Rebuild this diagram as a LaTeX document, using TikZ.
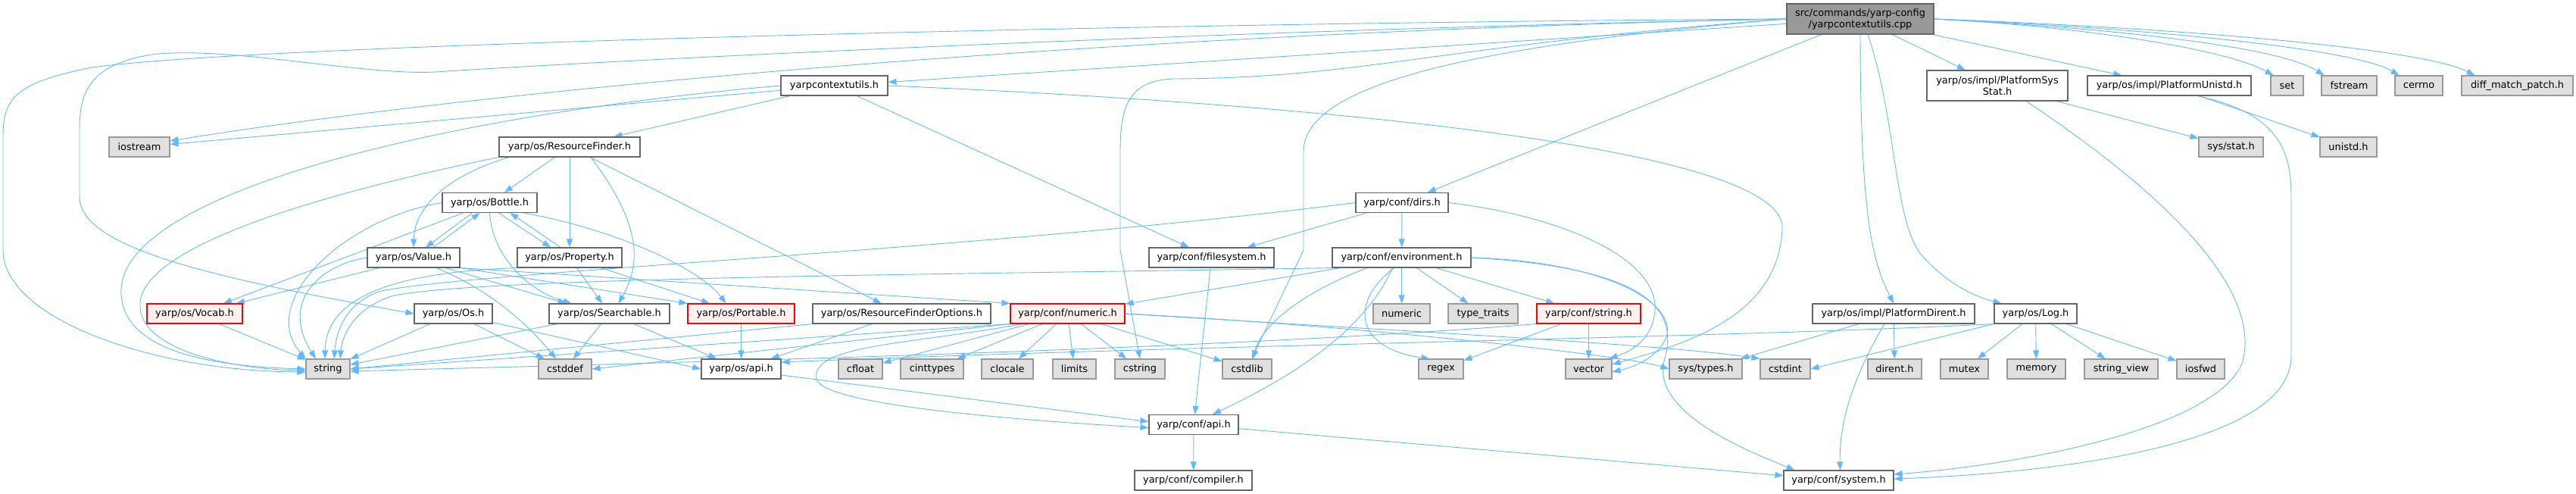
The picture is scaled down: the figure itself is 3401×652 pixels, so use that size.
\documentclass[tikz,border=0pt]{standalone}
\usepackage{fontspec}
\setmainfont{DejaVu Sans}
\usetikzlibrary{arrows.meta,backgrounds}
\definecolor{edgeblue}{HTML}{63B8FF}
\definecolor{boxline}{HTML}{666666}
\definecolor{sysline}{HTML}{999999}
\definecolor{sysfill}{HTML}{E0E0E0}
\definecolor{truncfill}{HTML}{FFF0F0}
\definecolor{rootfill}{HTML}{999999}

\begin{document}
\begin{tikzpicture}[x=1pt,y=-1pt,
  hdr/.style={draw=boxline,fill=white,line width=1.1pt,minimum height=26pt,inner sep=0pt,align=center,font=\fontsize{12.9}{15}\selectfont},
  sys/.style={hdr,draw=sysline,fill=sysfill},
  trunc/.style={hdr,draw=red,fill=truncfill},
  root/.style={hdr,fill=rootfill,minimum height=40pt},
  dep/.style={draw=edgeblue,line width=0.9pt,-{Triangle[length=11pt,width=8pt]}}]
\useasboundingbox (0,0) rectangle (3401,652);
\node[root,minimum width=194pt] (ctxcpp) at (2456,25) {src/commands/yarp-config\\/yarpcontextutils.cpp};
\node[hdr,minimum width=141pt] (ctxh) at (1101.5,113) {yarpcontextutils.h};
\node[hdr,minimum width=186pt,minimum height=40pt] (sysstat) at (2637,113) {yarp/os/impl/PlatformSys\\Stat.h};
\node[hdr,minimum width=216pt] (unistdh) at (2864,113) {yarp/os/impl/PlatformUnistd.h};
\node[sys,minimum width=43pt] (stdset) at (3019.5,113) {set};
\node[sys,minimum width=73pt] (fstream) at (3101.5,113) {fstream};
\node[sys,minimum width=63pt] (cerrno) at (3193.5,113) {cerrno};
\node[sys,minimum width=147pt] (dmp) at (3323.5,113) {diff\_match\_patch.h};
\node[sys,minimum width=80pt] (iostream) at (184,194) {iostream};
\node[hdr,minimum width=186pt] (rfinder) at (752,194) {yarp/os/ResourceFinder.h};
\node[sys,minimum width=85pt] (sysstath) at (2945.5,194) {sys/stat.h};
\node[sys,minimum width=75pt] (unistd) at (3100.5,194) {unistd.h};
\node[hdr,minimum width=125pt] (bottle) at (646.5,267.5) {yarp/os/Bottle.h};
\node[hdr,minimum width=122pt] (dirs) at (1851,267.5) {yarp/conf/dirs.h};
\node[hdr,minimum width=122pt] (value) at (546,340) {yarp/os/Value.h};
\node[hdr,minimum width=138pt] (property) at (752,340) {yarp/os/Property.h};
\node[hdr,minimum width=165pt] (fsys) at (1599.5,340) {yarp/conf/filesystem.h};
\node[hdr,minimum width=183pt] (env) at (1850.5,340) {yarp/conf/environment.h};
\node[trunc,minimum width=126pt] (vocab) at (257,414) {yarp/os/Vocab.h};
\node[hdr,minimum width=103pt] (os) at (598.5,414) {yarp/os/Os.h};
\node[hdr,minimum width=159pt] (searchable) at (804.5,414) {yarp/os/Searchable.h};
\node[trunc,minimum width=141pt] (portable) at (978.5,414) {yarp/os/Portable.h};
\node[hdr,minimum width=235pt] (rfopts) at (1190.5,414) {yarp/os/ResourceFinderOptions.h};
\node[trunc,minimum width=151pt] (numh) at (1409.5,414) {yarp/conf/numeric.h};
\node[sys,minimum width=75pt] (numeric) at (1850.5,414) {numeric};
\node[sys,minimum width=92pt] (typetraits) at (1958,414) {type\_traits};
\node[trunc,minimum width=137pt] (strh) at (2097.5,414) {yarp/conf/string.h};
\node[hdr,minimum width=214pt] (dirent) at (2500,414) {yarp/os/impl/PlatformDirent.h};
\node[hdr,minimum width=109pt] (log) at (2687.5,414) {yarp/os/Log.h};
\node[sys,minimum width=58pt] (string) at (433,487) {string};
\node[sys,minimum width=70pt] (cstddef) at (746,487) {cstddef};
\node[hdr,minimum width=105pt] (osapi) at (978.5,487) {yarp/os/api.h};
\node[sys,minimum width=58pt] (cfloat) at (1136,487) {cfloat};
\node[sys,minimum width=83pt] (cinttypes) at (1230.5,487) {cinttypes};
\node[sys,minimum width=68pt] (clocale) at (1330,487) {clocale};
\node[sys,minimum width=57pt] (limits) at (1418.5,487) {limits};
\node[sys,minimum width=66pt] (cstring) at (1505,487) {cstring};
\node[sys,minimum width=65pt] (cstdlib) at (1646.5,487) {cstdlib};
\node[sys,minimum width=59pt] (regex) at (1902.5,487) {regex};
\node[sys,minimum width=61pt] (vector) at (2097.5,487) {vector};
\node[sys,minimum width=96pt] (systypes) at (2252,487) {sys/types.h};
\node[sys,minimum width=66pt] (cstdint) at (2357,487) {cstdint};
\node[sys,minimum width=71pt] (direnth) at (2501.5,487) {dirent.h};
\node[sys,minimum width=63pt] (mutex) at (2593.5,487) {mutex};
\node[sys,minimum width=77pt] (memory) at (2688.5,487) {memory};
\node[sys,minimum width=97pt] (stringview) at (2800.5,487) {string\_view};
\node[sys,minimum width=63pt] (iosfwd) at (2905.5,487) {iosfwd};
\node[hdr,minimum width=118pt] (confapi) at (1576,560.5) {yarp/conf/api.h};
\node[hdr,minimum width=155pt] (compiler) at (1575.5,634) {yarp/conf/compiler.h};
\node[hdr,minimum width=145pt] (system) at (2427.5,634) {yarp/conf/system.h};
\begin{scope}[on background layer]
\foreach \a/\b in {ctxcpp/ctxh, ctxcpp/dirs, ctxcpp/sysstat, ctxcpp/unistdh,
  ctxh/iostream, ctxh/rfinder, ctxh/fsys, rfinder/bottle, rfinder/property, rfinder/rfopts,
  value.south east/portable.north west, value.south east/numh.north west,
  property/searchable, property/portable,
  vocab/string, os/string, os/cstddef, os/osapi.west, searchable/string, searchable/cstddef,
  searchable/osapi, portable/osapi, rfopts/osapi, rfopts.south west/string.east,
  numh/cfloat, numh/cinttypes, numh/clocale, numh/limits, numh/cstring, numh/cstdlib,
  numh.south west/string.east, numh.south west/cstddef.east,
  env/numh, env/numeric, env/typetraits, env/strh, strh/regex, strh/vector,
  dirs/fsys, dirs/env, fsys/confapi, confapi/compiler, confapi/system,
  sysstat/sysstath, unistdh/unistd, dirent/systypes, dirent/direnth,
  log.south west/cstdint.east, log/mutex, log/memory, log/stringview, log/iosfwd}
  \draw[dep] (\a) -- (\b);
\draw[dep] ([xshift=-23pt]bottle.south) -- ([xshift=16pt]value.north);
\draw[dep] ([xshift=26pt]value.north) -- ([xshift=-13pt]bottle.south);
\draw[dep] ([xshift=12pt]bottle.south) -- ([xshift=-25pt]property.north);
\draw[dep] ([xshift=-12pt]property.north) -- ([xshift=27pt]bottle.south);
\draw[dep] ([xshift=-35pt]bottle.south) -- ([xshift=38pt]vocab.north);
\draw[dep] ([xshift=-45pt]value.south) -- ([xshift=55pt]vocab.north);
\draw[dep] ([xshift=42pt]value.south) -- ([xshift=-57pt]searchable.north);
\draw[dep] ([yshift=-8pt]osapi.east) -- ([yshift=4pt]confapi.west);
\draw[dep] ([xshift=30pt]value.south) .. controls (640,380) and (690,420) .. ([xshift=-12pt]cstddef.north);
\draw[dep] (bottle.south) .. controls (650,340) and (700,385) .. ([xshift=-50pt]searchable.north);
\draw[dep] ([xshift=45pt]bottle.south) .. controls (800,300) and (920,350) .. ([xshift=-20pt]portable.north);
\draw[dep] ([xshift=-80pt]rfinder.south) .. controls (580,235) and (547,280) .. (value.north);
\draw[dep] ([xshift=28pt]rfinder.south) .. controls (850,300) and (845,350) .. ([xshift=12pt]searchable.north);
\draw[dep] (ctxcpp.west) .. controls (1400,45) and (600,125) .. ([yshift=8pt]iostream.east);
\draw[dep] (ctxcpp.west) .. controls (1500,30) and (300,60) .. (116,90) .. controls (20,110) and (4,130) .. (4,180) -- (4,330) .. controls (4,420) and (200,490) .. ([yshift=-4pt]string.west);
\draw[dep] (ctxcpp.west) .. controls (1600,40) and (800,80) .. (575,95) .. controls (480,100) and (300,60) .. (200,72) .. controls (120,85) and (105,120) .. (105,170) -- (105,260) .. controls (105,330) and (300,370) .. (os.west);
\draw[dep] (ctxcpp.west) .. controls (1900,60) and (1800,103) .. (1550,104) .. controls (1490,106) and (1479,140) .. (1479,200) -- (1479,330) -- (cstring.north);
\draw[dep] (ctxcpp.west) .. controls (1950,60) and (1721,110) .. (1721,200) -- (1721,330) -- ([xshift=6pt]cstdlib.north);
\draw[dep] (ctxcpp.south) .. controls (2456,300) and (2475,350) .. (dirent.north);
\draw[dep] ([xshift=10pt]ctxcpp.south) .. controls (2505,160) and (2500,300) .. (2540,340) .. controls (2575,378) and (2610,392) .. ([xshift=-45pt]log.north);
\draw[dep] (ctxcpp.east) .. controls (2750,35) and (2940,65) .. ([xshift=4pt]stdset.north west);
\draw[dep] (ctxcpp.east) .. controls (2800,38) and (3010,62) .. ([xshift=4pt]fstream.north west);
\draw[dep] (ctxcpp.east) .. controls (2850,38) and (3110,65) .. ([xshift=6pt]cerrno.north west);
\draw[dep] (ctxcpp.east) .. controls (2900,38) and (3200,65) .. ([xshift=18pt]dmp.north west);
\draw[dep] (ctxh.west) .. controls (600,150) and (170,250) .. (160,380) .. controls (155,470) and (300,484) .. (string.west);
\draw[dep] (rfinder.south west) .. controls (450,250) and (190,320) .. (185,400) .. controls (181,460) and (300,487) .. ([yshift=-2pt]string.west);
\draw[dep] (bottle.west) .. controls (450,290) and (340,400) .. (string.north west);
\draw[dep] (value.west) .. controls (420,350) and (370,400) .. ([xshift=-16pt]string.north);
\draw[dep] (property.south west) .. controls (500,360) and (430,400) .. ([xshift=-4pt]string.north);
\draw[dep] (dirs.west) .. controls (1300,330) and (600,360) .. (500,385) .. controls (460,400) and (445,430) .. ([xshift=8pt]string.north);
\draw[dep] (env.south west) .. controls (1300,362) and (650,365) .. (520,390) .. controls (470,405) and (452,440) .. ([xshift=16pt]string.north);
\draw[dep] (strh.south west) .. controls (1600,462) and (900,478) .. ([yshift=-3pt]string.east);
\draw[dep] (ctxh.east) .. controls (1800,140) and (2353,200) .. (2353,300) .. controls (2350,420) and (2220,455) .. ([yshift=6pt]vector.east);
\draw[dep] (dirs.east) .. controls (2060,285) and (2190,340) .. (2185,410) .. controls (2182,450) and (2150,465) .. ([xshift=-4pt]vector.north east);
\draw[dep] (env.east) .. controls (2120,345) and (2215,400) .. (2200,445) .. controls (2190,470) and (2160,484) .. ([yshift=-4pt]vector.east);
\draw[dep] (env.east) .. controls (2200,355) and (2215,420) .. (2196,480) .. controls (2185,550) and (2320,600) .. ([xshift=-58pt]system.north);
\draw[dep] ([xshift=-45pt]env.south) .. controls (1720,385) and (1665,430) .. ([xshift=8pt]cstdlib.north);
\draw[dep] ([xshift=-12pt]env.south) .. controls (1800,440) and (1700,500) .. ([xshift=25pt]confapi.north);
\draw[dep] ([xshift=-10pt]env.south) .. controls (1780,400) and (1790,460) .. ([xshift=-15pt]regex.north);
\draw[dep] ([xshift=-60pt]numh.south) .. controls (1200,455) and (1070,455) .. (1078,500) .. controls (1085,535) and (1350,555) .. ([yshift=-4pt]confapi.west);
\draw[dep] (numh.east) .. controls (1800,430) and (2150,470) .. (systypes.west);
\draw[dep] (numh.east) .. controls (1900,440) and (2200,455) .. (cstdint.north west);
\draw[dep] (log.south west) .. controls (2300,445) and (1600,455) .. ([yshift=9pt]osapi.east);
\draw[dep] ([xshift=-12pt]dirent.south) .. controls (2445,500) and (2428,560) .. ([xshift=2pt]system.north);
\draw[dep] ([xshift=38pt]sysstat.south) .. controls (2850,250) and (2990,380) .. (2960,480) .. controls (2920,570) and (2650,615) .. ([yshift=8pt]system.east);
\draw[dep] ([xshift=37pt]unistdh.south) .. controls (3010,150) and (3025,200) .. (3025,260) -- (3025,470) .. controls (3025,590) and (2700,625) .. ([yshift=2pt]system.east);
\end{scope}
\end{tikzpicture}
\end{document}
